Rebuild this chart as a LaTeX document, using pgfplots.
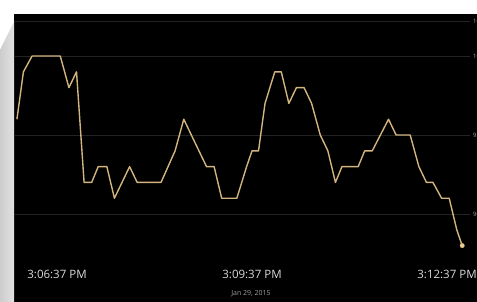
\documentclass[border=0pt]{standalone}
\usepackage{fontspec}
\setmainfont{Open Sans}
\usepackage{pgfplots}
\pgfplotsset{compat=1.18}
\definecolor{linegold}{RGB}{210,180,126}
\definecolor{gridc}{RGB}{34,34,34}
\definecolor{tickc}{RGB}{218,218,218}
\begin{document}
\begin{tikzpicture}[x=1pt,y=1pt]
\useasboundingbox (0,0) rectangle (477,302);
\clip (0,0) rectangle (477,302);
\fill[white] (0,0) rectangle (477,302);
\fill[black] (14,0) rectangle (477,288);
\shade[left color={rgb,255:red,205;green,205;blue,205}, right color={rgb,255:red,226;green,226;blue,226}] (0,0) -- (14,0) -- (14,280) -- (0,252) -- cycle;
\begin{axis}[
  at={(14pt,42pt)}, anchor=south west,
  scale only axis, width=456pt, height=246pt,
  xmin=-39.7, xmax=381.2,
  ymin=87.09, ymax=102.66,
  axis line style={draw=none},
  tick style={draw=none},
  xtick={0,180,360},
  xticklabels={3:06:37 PM,3:09:37 PM,3:12:37 PM},
  xticklabel style={font=\fontsize{11.5}{12}\selectfont, text=tickc, inner sep=0pt, yshift=-10pt},
  ytick={90,95,100},
  extra y ticks={102.2},
  extra y tick labels={102},
  extra y tick style={grid=major},
  ymajorgrids,
  grid style={gridc, line width=0.8pt},
  yticklabel pos=right,
  yticklabel style={font=\fontsize{6}{7}\selectfont, text=gray!70, inner sep=0pt, xshift=3pt},
  /pgf/number format/assume math mode=true,
  clip=false,
]
\addplot[linegold, line width=1.4pt, line join=round] coordinates {
(-37,96) (-31,99) (-23,100) (3,100) (11,98) (18,99) (25,92) (32,92)
(38,93) (46,93) (53,91) (67,93) (74,92) (96,92) (109,94) (117,96)
(138,93) (145,93) (152,91) (166,91) (175,93) (180,94) (186,94) (192,97)
(201,99) (207,99) (214,97) (221,98) (228,98) (235,97) (243,95) (250,94)
(257,92) (263,93) (278,93) (284,94) (291,94) (306,96) (313,95) (326,95)
(334,93) (341,92) (347,92) (355,91) (362,91) (369,89) (374,88)
};
\addplot[only marks, mark=*, mark size=2.2pt, mark options={fill={rgb,255:red,240;green,205;blue,150}, draw=linegold}] coordinates {(374,88)};
\end{axis}
\node[text=gray!75, font=\fontsize{7}{8}\selectfont] at (251,8) {Jan 29, 2015};
\end{tikzpicture}
\end{document}
